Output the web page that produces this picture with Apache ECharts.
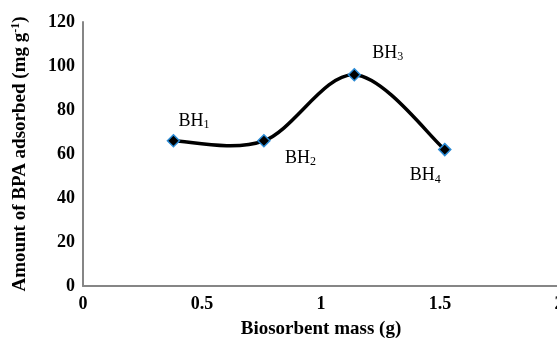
<!DOCTYPE html>
<html>
<head>
<meta charset="utf-8">
<script src="https://cdn.jsdelivr.net/npm/echarts@6/dist/echarts.min.js"></script>
<style>
  html, body { margin: 0; padding: 0; background: #fff; }
  #chart { width: 557px; height: 339px; }
</style>
</head>
<body>
<div id="chart"></div>
<script>
// biosorbent mass (g) vs BPA adsorbed (mg/g)
const mass = [0.38, 0.76, 1.14, 1.52];
const adsorbed = [66, 66, 96, 62];
const pointNames = ['1', '2', '3', '4'];
// label offset from the marker centre, px
const labelOffsets = [[5, -20], [21, 17], [18, -22], [-35, 26]];

const serif = '"Liberation Serif", "Times New Roman", serif';

const chart = echarts.init(document.getElementById('chart'));

const labelRich = {
  b: { fontFamily: serif, fontSize: 18, color: '#000' },
  s: { fontFamily: serif, fontSize: 12, color: '#000', padding: [9, 0, 0, 0] }
};

// Excel-style smoothed segment (catmull-rom -> bezier) between point i and i+1
function renderSegment(params, api) {
  const i = params.dataIndex;
  const n = mass.length;
  if (i >= n - 1) return;
  const pts = mass.map((m, k) => api.coord([m, adsorbed[k]]));
  const p0 = pts[Math.max(i - 1, 0)], p1 = pts[i], p2 = pts[i + 1], p3 = pts[Math.min(i + 2, n - 1)];
  return {
    type: 'bezierCurve',
    shape: {
      x1: p1[0], y1: p1[1], x2: p2[0], y2: p2[1],
      cpx1: p1[0] + (p2[0] - p0[0]) / 6, cpy1: p1[1] + (p2[1] - p0[1]) / 6,
      cpx2: p2[0] - (p3[0] - p1[0]) / 6, cpy2: p2[1] - (p3[1] - p1[1]) / 6
    },
    style: { stroke: '#000', lineWidth: 3.5, fill: 'none' }
  };
}

chart.setOption({
  backgroundColor: '#fff',
  animation: false,
  grid: { left: 83, top: 22, right: -2, bottom: 53, outerBoundsMode: 'none', containLabel: false },
  xAxis: {
    type: 'value',
    min: 0, max: 2, interval: 0.5,
    name: 'Biosorbent mass (g)',
    nameLocation: 'middle',
    nameGap: 34,
    nameTextStyle: { fontFamily: serif, fontSize: 19, fontWeight: 'bold', color: '#000' },
    axisLine: { lineStyle: { color: '#868686', width: 2 } },
    axisTick: { show: false },
    splitLine: { show: false },
    axisLabel: { fontFamily: serif, fontSize: 18, fontWeight: 'bold', color: '#000', margin: 9, showMaxLabel: true }
  },
  yAxis: {
    type: 'value',
    min: 0, max: 120, interval: 20,
    name: '{t|Amount of BPA adsorbed (mg g}{sup|-1}{t|)}',
    nameLocation: 'middle',
    nameGap: 52,
    nameTextStyle: {
      rich: {
        t: { fontFamily: serif, fontSize: 19, fontWeight: 'bold', color: '#000' },
        sup: { fontFamily: serif, fontSize: 12, fontWeight: 'bold', color: '#000', padding: [0, 0, 9, 0] }
      }
    },
    axisLine: { show: true, lineStyle: { color: '#868686', width: 2 } },
    axisTick: { show: false },
    splitLine: { show: false },
    axisLabel: { fontFamily: serif, fontSize: 18, fontWeight: 'bold', color: '#000', margin: 8 }
  },
  series: [
    {
      type: 'custom',
      renderItem: renderSegment,
      data: mass.map((m, i) => [m, adsorbed[i]]),
      encode: { x: 0, y: 1 },
      z: 2
    },
    {
      type: 'scatter',
      data: mass.map((m, i) => ({
        value: [m, adsorbed[i]],
        label: {
          show: true,
          formatter: '{b|BH}{s|' + pointNames[i] + '}',
          rich: labelRich,
          position: 'inside',
          align: 'left',
          verticalAlign: 'middle',
          offset: labelOffsets[i]
        }
      })),
      symbol: 'diamond',
      symbolSize: 12,
      itemStyle: { color: '#000', borderColor: '#2a8ad4', borderWidth: 1.5, opacity: 1 },
      z: 3
    }
  ]
});
</script>
</body>
</html>
